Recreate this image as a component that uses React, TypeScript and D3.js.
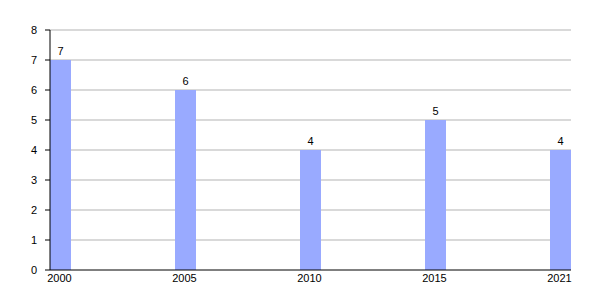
import React from "react";
import * as d3 from "d3";

const years = ["2000", "2005", "2010", "2015", "2021"];
const values = [7, 6, 4, 5, 4];
const yTicks = [0, 1, 2, 3, 4, 5, 6, 7, 8];

export default function App() {
  const W = 600, H = 300;
  const left = 50, right = 571, top = 30, bottom = 270;
  const barW = 21;
  const x = d3.scalePoint<string>().domain(years).range([left + barW / 2, right - barW / 2]);
  const y = d3.scaleLinear().domain([0, 8]).range([bottom, top]);
  const font = "'Liberation Sans', Arial, sans-serif";
  return (
    <svg width={W} height={H} style={{ position: "absolute", left: 0, top: 0, background: "#fff" }}>
      {yTicks.map((t) => (
        <g key={t}>
          {t > 0 && <line x1={left} x2={right} y1={y(t)} y2={y(t)} stroke="#b3b3b3" strokeWidth={1} />}
          <line x1={left - 5} x2={left} y1={y(t)} y2={y(t)} stroke="#000" strokeWidth={1} />
          <text x={37} y={y(t) + 4} textAnchor="end" fontSize={11} fontFamily={font} fill="#000">{t}</text>
        </g>
      ))}
      {years.map((yr, i) => (
        <g key={yr}>
          <rect x={x(yr)! - barW / 2} y={y(values[i])} width={barW} height={bottom - y(values[i])} fill="#99aaff" />
          <text x={x(yr)!} y={y(values[i]) - 5} textAnchor="middle" fontSize={11} fontFamily={font} fill="#000">{values[i]}</text>
          <text x={x(yr)! - 1} y={282} textAnchor="middle" fontSize={11} fontFamily={font} fill="#000">{yr}</text>
        </g>
      ))}
      <line x1={left} x2={left} y1={top} y2={bottom} stroke="#000" strokeWidth={1} />
      <line x1={left} x2={right} y1={bottom} y2={bottom} stroke="#000" strokeWidth={1} />
    </svg>
  );
}
